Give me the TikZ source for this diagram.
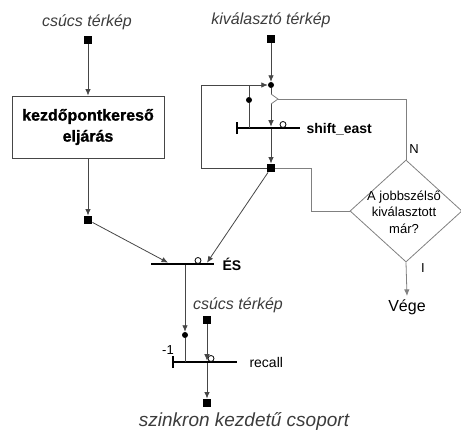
\documentclass[tikz,border=0pt]{standalone}
\usepackage{fontspec}
\setmainfont{Liberation Sans}
\usetikzlibrary{arrows.meta,shapes.geometric}
\definecolor{wireGray}{RGB}{70,70,70}
\definecolor{diamondGray}{RGB}{128,128,128}
\definecolor{labelGray}{RGB}{60,60,60}

\begin{document}
\begin{tikzpicture}[x=1pt,y=-1pt,
    wire/.style={wireGray, line width=0.8pt},
    flow/.style={wire, -{Latex[length=6.5pt,width=5.5pt]}},
    place/.style={fill=black, minimum size=8.5pt, inner sep=0pt},
    bar/.style={fill=black, minimum height=2.6pt, inner sep=0pt},
    negdot/.style={circle, draw=black, line width=0.8pt, fill=white, minimum size=6pt, inner sep=0pt},
    dot/.style={circle, fill=black, minimum size=6pt, inner sep=0pt},
    maplabel/.style={font=\fontsize{16}{18}\selectfont\itshape, text=labelGray},
    barlabel/.style={anchor=west, font=\fontsize{14}{16}\selectfont\bfseries}]
    \useasboundingbox (0,0) rectangle (461,429);

    % starting point search
    \node[maplabel] (mapA) at (87,22) {csúcs térkép};
    \node[place] (sqA) at (88,40) {};
    \node[draw=wireGray, line width=0.8pt, minimum width=152pt, minimum height=62pt, align=center,
          font=\fontsize{16}{21}\selectfont\bfseries\addfontfeatures{FakeBold=1.2}] (proc) at (88,127)
        {kezdőpontkereső\\eljárás};
    \node[place] (sqB) at (88,220) {};
    \draw[flow] (sqA) -- (proc.north);
    \draw[flow] (proc.south) -- (sqB);

    % selection map with shift_east loop
    \node[maplabel] (mapB) at (271,20) {kiválasztó térkép};
    \node[place] (sqC) at (271,39) {};
    \node[dot] (jd) at (271,85) {};
    \node[bar, minimum width=63pt] (se) at (268.5,128) {};
    \node[negdot] (seneg) at (283,124.5) {};
    \node[barlabel] (selabel) at (303,129) {shift\_east};
    \node[place] (sqD) at (271,168) {};
    \coordinate (loopBL) at (201,168);
    \coordinate (loopTL) at (201,85);
    \coordinate (brTop) at (249,85);
    \node[dot] (bd) at (249,100) {};
    \coordinate (brEnd) at (249,128);
    \coordinate (seIn) at (271,126.7);
    \coordinate (seOut) at (271,129.3);
    \draw[flow] (sqC) -- (jd);
    \draw[flow] (sqD) -- (loopBL) -- (loopTL) -- (jd);
    \draw[wire] (brTop) -- (bd) -- (brEnd);
    \draw[flow] (jd) -- (seIn);
    \draw[flow] (seOut) -- (sqD);
    \draw[line width=1.6pt] ([yshift=-6pt]se.west) -- ([yshift=6pt]se.west);

    % decision
    \coordinate (trTop) at (271,94);
    \coordinate (trTip) at (278,99);
    \coordinate (trBot) at (271,104);
    \draw[diamondGray, line width=0.8pt, fill=white] (trTop) -- (trTip) -- (trBot);
    \node[diamond, draw=diamondGray, line width=0.8pt, minimum width=112pt, minimum height=102pt,
          inner sep=0pt] (dec) at (406,211) {};
    \node[align=center, font=\fontsize{13}{16.5}\selectfont] (dectext) at (404,212)
        {A jobbszélső\\kiválasztott\\már?};
    \node[font=\fontsize{13}{15}\selectfont] (nlabel) at (414,149) {N};
    \node[font=\fontsize{13}{15}\selectfont] (ilabel) at (423,268) {I};
    \node[font=\fontsize{16}{18}\selectfont] (vege) at (407,307) {Vége};
    \coordinate (decBend) at (311,211);
    \draw[diamondGray, line width=0.8pt] (trTip) -| (dec.north);
    \draw[diamondGray, line width=0.8pt] (sqD) -| (decBend) -- (dec.west);
    \draw[diamondGray, line width=0.8pt, -{Latex[length=6.5pt,width=5.5pt]}] (dec.south) -- (vege.north);

    % ÉS transition
    \node[bar, minimum width=63pt] (es) at (182.5,264) {};
    \node[negdot] (esneg) at (198,260.5) {};
    \node[barlabel] (eslabel) at (219,264.5) {ÉS};
    \coordinate (esA) at (168,262.7);
    \coordinate (esB) at (207,262.7);
    \draw[flow] (sqB) -- (esA);
    \draw[flow] (sqD) -- (esB);

    % recall
    \node[bar, minimum width=64pt] (rc) at (205,362) {};
    \node[negdot] (rcneg) at (211,358.5) {};
    \node[anchor=west, font=\fontsize{14}{16}\selectfont] (rclabel) at (246,362) {recall};
    \node[font=\fontsize{13}{15}\selectfont] (minusone) at (168,350) {-1};
    \draw[line width=1.6pt] ([yshift=-6pt]rc.west) -- ([yshift=6pt]rc.west);
    \coordinate (esOut) at (185,265.3);
    \node[dot] (rd) at (185,335) {};
    \coordinate (rcA) at (185,362);
    \draw[flow] (esOut) -- (rd);
    \draw[wire] (rd) -- (rcA);
    \node[maplabel] (mapC) at (238,305) {csúcs térkép};
    \node[place] (sqE) at (207,320) {};
    \coordinate (rcB) at (207,360.7);
    \coordinate (rcBout) at (207,363.3);
    \node[place] (sqF) at (207,403) {};
    \draw[flow] (sqE) -- (rcB);
    \draw[flow] (rcBout) -- (sqF);
    \node[font=\fontsize{19}{21}\selectfont\itshape, text=labelGray] (result) at (244,421)
        {szinkron kezdetű csoport};
\end{tikzpicture}
\end{document}
